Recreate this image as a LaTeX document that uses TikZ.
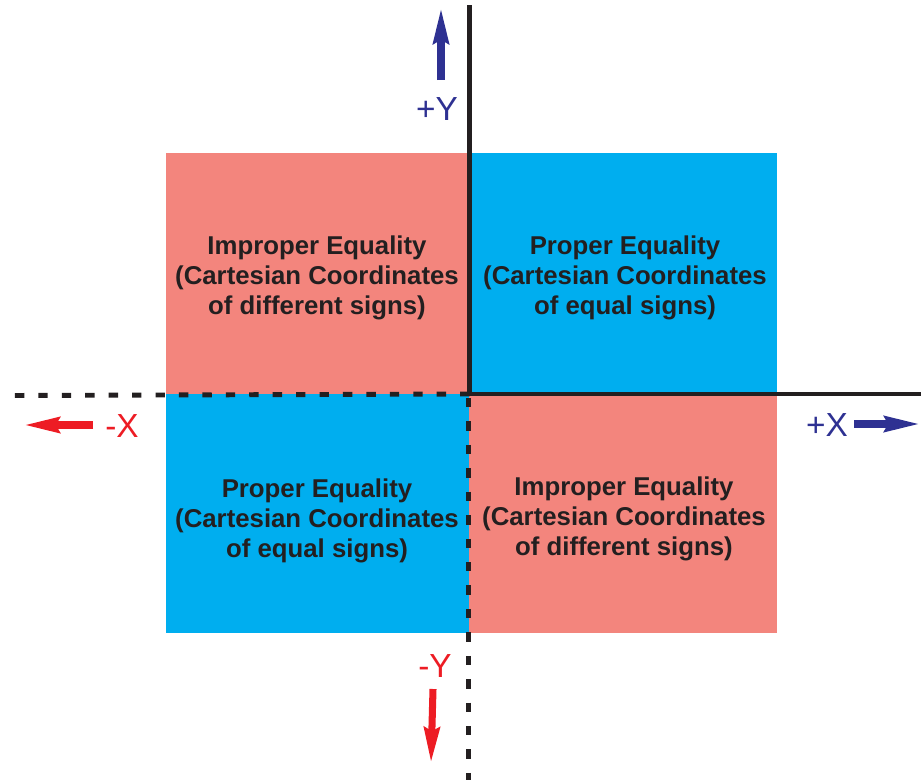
\documentclass[tikz,border=0pt]{standalone}
\usepackage{fontspec}
\setmainfont{Liberation Sans}
\usetikzlibrary{arrows.meta,positioning}
\definecolor{quadred}{RGB}{243,133,125}
\definecolor{quadblue}{RGB}{0,174,239}
\definecolor{axisblue}{RGB}{46,49,146}
\definecolor{axisred}{RGB}{237,28,36}
\definecolor{inkgray}{RGB}{35,31,32}

\begin{document}
\begin{tikzpicture}[x=0.03cm,y=-0.03cm,
    quadtext/.style={align=center,text=inkgray,font=\bfseries\fontsize{22}{25.6}\selectfont},
    axislabel/.style={font=\fontsize{28.5}{30}\selectfont},
    dirarrow/.style={line width=6pt,-{Stealth[length=30pt,width=13pt,inset=3pt]}},
    axisline/.style={draw=inkgray,line width=4.2pt},
    axisdash/.style={axisline,dash pattern=on 8pt off 12pt}]
    \useasboundingbox (0,0) rectangle (921,780);
    % quadrants
    \fill[quadred]  (166,153) rectangle (469,394);
    \fill[quadblue] (469,153) rectangle (777,394);
    \fill[quadblue] (166,394) rectangle (469,633);
    \fill[quadred]  (469,394) rectangle (777,633);
    \node[quadtext] (tl) at (317,278) {Improper Equality\\(Cartesian Coordinates\\of different signs)};
    \node[quadtext] (tr) at (625,278) {Proper Equality\\(Cartesian Coordinates\\of equal signs)};
    \node[quadtext] (bl) at (317,521) {Proper Equality\\(Cartesian Coordinates\\of equal signs)};
    \node[quadtext] (br) at (624,519) {Improper Equality\\(Cartesian Coordinates\\of different signs)};
    % axes
    \coordinate (o) at (469.5,394);
    \coordinate (ytop) at (469.5,5);
    \coordinate (ybot) at (468.5,780);
    \coordinate (xright) at (921,394);
    \coordinate (xleft) at (10,395.5);
    \draw[axisline] (ytop) -- (o) -- (xright);
    \draw[axisdash] (o) -- (xleft);
    \draw[axisdash] (468.5,398) -- (ybot);
    % direction labels
    \node[axislabel,text=axisblue] (py) at (437,109) {+Y};
    \node[axislabel,text=axisred]  (mx) at (122,426) {-X};
    \node[axislabel,text=axisblue] (px) at (827,425) {+X};
    \node[axislabel,text=axisred]  (my) at (435,666) {-Y};
    \coordinate (py0) at (441,80);  \coordinate (py1) at (441,8);
    \coordinate (mx0) at (93,425);  \coordinate (mx1) at (24,425);
    \coordinate (px0) at (854,424); \coordinate (px1) at (920,424);
    \coordinate (my0) at (433,689); \coordinate (my1) at (431,763);
    \draw[dirarrow,axisblue] (py0) -- (py1);
    \draw[dirarrow,axisred]  (mx0) -- (mx1);
    \draw[dirarrow,axisblue] (px0) -- (px1);
    \draw[dirarrow,axisred]  (my0) -- (my1);
\end{tikzpicture}
\end{document}
